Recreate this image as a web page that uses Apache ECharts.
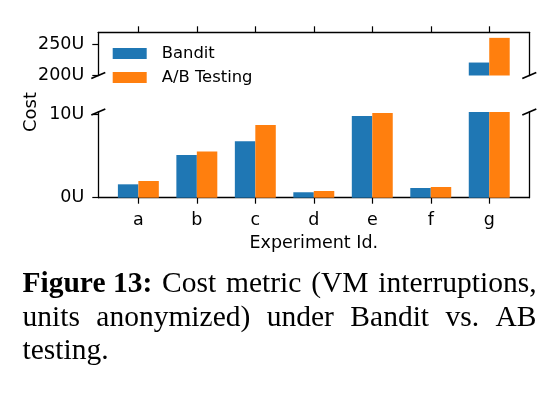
<!DOCTYPE html>
<html><head><meta charset="utf-8">
<script src="https://cdn.jsdelivr.net/npm/echarts@6/dist/echarts.min.js"></script>
<style>html,body{margin:0;padding:0;background:#fff}#c{width:549px;height:395px}</style>
</head><body><div id="c"></div>
<script>
// ---- data ----
const categories = ['a', 'b', 'c', 'd', 'e', 'f', 'g'];
const banditCost = [1.6, 5.1, 6.75, 0.65, 9.76, 1.16, 221];
const abTestingCost = [2.0, 5.54, 8.7, 0.8, 10.12, 1.28, 261];
const seriesNames = ['Bandit', 'A/B Testing'];
const lowerTicks = [0, 10];
const upperTicks = [200, 250];
const lowerRange = [0, 10.25];
const upperRange = [200, 270];
const xLabel = 'Experiment Id.';
const yLabel = 'Cost';
const captionLines = [
  [{t: 'Figure 13:', b: true}, {t: 'Cost'}, {t: 'metric'}, {t: '(VM'}, {t: 'interruptions,'}],
  [{t: 'units'}, {t: 'anonymized)'}, {t: 'under'}, {t: 'Bandit'}, {t: 'vs.'}, {t: 'AB'}],
  [{t: 'testing.'}]
];

// ---- layout ----
const L = 98.3, R = 529.3, W = 549;
const upper = {top: 32.3, bottom: 75.5};
const lower = {top: 112, bottom: 197.7};
const colors = ['#1f77b4', '#ff7f0e'];
const FONT = 'DejaVu Sans';
const tickFs = 17.5;
const xMin = -0.685, xMax = 6.685;
const pxPerUnit = (R - L) / (xMax - xMin);
const barW = 0.35 * pxPerUnit;
const catIdx = categories.map((c, i) => i);

const chart = echarts.init(document.getElementById('c'), null, {renderer: 'canvas'});

function xAxisCfg(gridIndex, pos, showLabels) {
  return {
    type: 'value', gridIndex, position: pos, min: xMin, max: xMax,
    splitLine: {show: false},
    axisLine: {show: true, onZero: false, lineStyle: {color: '#000', width: 1.3}},
    axisTick: {show: true, customValues: catIdx, length: 6, lineStyle: {color: '#000', width: 1.2}},
    axisLabel: showLabels ? {
      show: true, customValues: catIdx, margin: 14, color: '#000',
      fontFamily: FONT, fontSize: tickFs, formatter: v => categories[Math.round(v)]
    } : {show: false},
    name: showLabels ? xLabel : '', nameLocation: 'middle', nameGap: 37,
    nameTextStyle: {fontFamily: FONT, fontSize: tickFs, color: '#000'}
  };
}
function yAxisCfg(gridIndex, range, ticks) {
  return {
    type: 'value', gridIndex, position: 'left', min: range[0], max: range[1],
    splitLine: {show: false},
    axisLine: {show: true, onZero: false, lineStyle: {color: '#000', width: 1.3}},
    axisTick: {show: true, customValues: ticks, length: 6, lineStyle: {color: '#000', width: 1.2}},
    axisLabel: {show: true, customValues: ticks, margin: 14, color: '#000',
      fontFamily: FONT, fontSize: tickFs, formatter: v => v + 'U'}
  };
}
function yRightCfg(gridIndex, range) {
  return {
    type: 'value', gridIndex, position: 'right', min: range[0], max: range[1],
    splitLine: {show: false},
    axisLine: {show: true, onZero: false, lineStyle: {color: '#000', width: 1.3}},
    axisTick: {show: false}, axisLabel: {show: false}
  };
}

const series = [];
[0, 1].forEach(g => {
  [banditCost, abTestingCost].forEach((vals, s) => {
    series.push({
      type: 'bar', name: seriesNames[s], xAxisIndex: g, yAxisIndex: g * 2,
      data: catIdx.map(i => [i, vals[i]]),
      barWidth: barW, barGap: '0%', clip: true,
      itemStyle: {color: colors[s]}, emphasis: {disabled: true}
    });
  });
});

// break marks
const breakMarks = [];
[[L, upper.bottom], [R, upper.bottom], [L, lower.top], [R, lower.top]].forEach(([x, y]) => {
  breakMarks.push({
    type: 'line', shape: {x1: x - 7, y1: y + 3, x2: x + 7, y2: y - 3},
    style: {stroke: '#000', lineWidth: 1.8}, z: 10
  });
});

// caption justified
const capFs = 29.5;
const ctx = document.createElement('canvas').getContext('2d');
function measure(t, b) { ctx.font = (b ? 'bold ' : '') + capFs + 'px "Liberation Serif"'; return ctx.measureText(t).width; }
const capLeft = 22.5, capRight = 536.5;
const baselines = [288.3, 321.7, 355];
const captionEls = [];
captionLines.forEach((words, li) => {
  const widths = words.map(w => measure(w.t, w.b));
  const total = widths.reduce((a, b) => a + b, 0);
  const justify = li < captionLines.length - 1;
  const gap = justify ? (capRight - capLeft - total) / (words.length - 1) : measure(' ');
  let x = capLeft;
  words.forEach((w, wi) => {
    captionEls.push({
      type: 'text', x: x, y: baselines[li] + 11,
      style: {text: w.t, fill: '#000', font: (w.b ? 'bold ' : '') + capFs + 'px "Liberation Serif"',
        textAlign: 'left', textVerticalAlign: 'bottom', lineHeight: capFs * 1.0},
      z: 10
    });
    x += widths[wi] + gap;
  });
});

chart.setOption({
  animation: false,
  backgroundColor: '#fff',
  grid: [
    {left: L, right: W - R, top: upper.top, height: upper.bottom - upper.top, containLabel: false},
    {left: L, right: W - R, top: lower.top, height: lower.bottom - lower.top, containLabel: false}
  ],
  xAxis: [xAxisCfg(0, 'top', false), xAxisCfg(1, 'bottom', true)],
  yAxis: [yAxisCfg(0, upperRange, upperTicks), yRightCfg(0, upperRange),
          yAxisCfg(1, lowerRange, lowerTicks), yRightCfg(1, lowerRange)],
  legend: {
    orient: 'vertical', left: 112.7, top: 45.5, padding: 0, itemGap: 8,
    itemWidth: 34, itemHeight: 11, icon: 'rect', backgroundColor: '#fff',
    textStyle: {fontFamily: FONT, fontSize: 16.4, color: '#000', padding: [0, 0, 0, 10]},
    data: seriesNames
  },
  graphic: [
    {type: 'text', x: 31, y: 112, rotation: Math.PI / 2,
      style: {text: yLabel, fill: '#000', font: '18px "DejaVu Sans"', textAlign: 'center', textVerticalAlign: 'middle'}, z: 10}
  ].concat(breakMarks, captionEls),
  series
});
</script></body></html>
